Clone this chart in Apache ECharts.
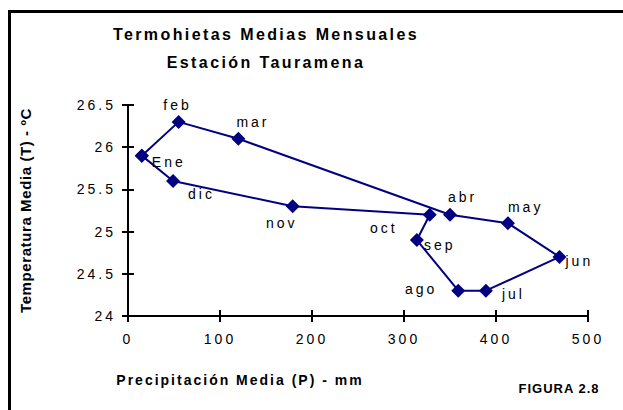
<!DOCTYPE html>
<html><head><meta charset="utf-8">
<script src="https://cdn.jsdelivr.net/npm/echarts@6/dist/echarts.min.js"></script>
<style>html,body{margin:0;padding:0;background:#fff}#c{width:623px;height:410px}</style>
</head><body><div id="c"></div>
<script>
const months = ['Ene','feb','mar','abr','may','jun','jul','ago','sep','oct','nov','dic'];
const precip = [15, 55, 120, 350, 413, 469, 389, 359, 314, 328, 179, 49];
const temp = [25.9, 26.3, 26.1, 25.2, 25.1, 24.7, 24.3, 24.3, 24.9, 25.2, 25.3, 25.6];
const xTicks = [0, 100, 200, 300, 400, 500];
const yTicks = [24, 24.5, 25, 25.5, 26, 26.5];
// label placement (style only): [align, dx, dy]
const labelPlace = [
  ['left', 10, 6], ['center', -1, -17], ['left', -2, -17], ['left', -2, -18],
  ['left', 0, -16], ['left', 6, 4], ['left', 16, 3], ['right', -21, -2],
  ['left', 7, 5], ['right', -32, 13], ['center', -11, 17], ['left', 15, 13]
];
const FONT = "'Liberation Sans', Arial, sans-serif";

const data = months.map((m, i) => ({
  name: m,
  value: [precip[i], temp[i]],
  label: { show: true, formatter: m, position: 'inside', align: labelPlace[i][0],
           verticalAlign: 'middle', offset: [labelPlace[i][1], labelPlace[i][2]] }
}));
data.push({ name: months[0], value: [precip[0], temp[0]], label: { show: false } });

const chart = echarts.init(document.getElementById('c'), null, { renderer: 'svg' });
const xMin = xTicks[0], xMax = xTicks[xTicks.length - 1], xInt = xTicks[1] - xTicks[0];
const yMin = yTicks[0], yMax = yTicks[yTicks.length - 1], yInt = yTicks[1] - yTicks[0];
const lineBlack = { show: true, lineStyle: { color: '#000', width: 2 } };

chart.setOption({
  animation: false,
  backgroundColor: '#fff',
  grid: { left: 128, right: 35, top: 105, bottom: 94, containLabel: false },
  xAxis: [{
    type: 'value', min: xMin, max: xMax, interval: xInt, position: 'bottom',
    axisLine: lineBlack,
    axisTick: { show: true, inside: false, length: 6, lineStyle: { color: '#000', width: 2 } },
    axisLabel: { color: '#000', fontFamily: FONT, fontSize: 14, margin: 16 },
    splitLine: { show: false },
    name: 'Precipitación Media (P) - mm', nameLocation: 'middle', nameGap: 57,
    nameTextStyle: { color: '#000', fontFamily: FONT, fontSize: 14, fontWeight: 'bold', padding: [0, 236, 0, 0] }
  }, {
    type: 'value', min: xMin, max: xMax, interval: xInt, position: 'bottom',
    axisLine: { show: false },
    axisTick: { show: true, inside: true, length: 6, lineStyle: { color: '#000', width: 2 } },
    axisLabel: { show: false }, splitLine: { show: false }
  }],
  yAxis: [{
    type: 'value', min: yMin, max: yMax, interval: yInt, position: 'left',
    axisLine: lineBlack,
    axisTick: { show: true, inside: false, length: 6, lineStyle: { color: '#000', width: 2 } },
    axisLabel: { color: '#000', fontFamily: FONT, fontSize: 14, margin: 12 },
    splitLine: { show: false },
    name: 'Temperatura Media (T) - ºC', nameLocation: 'middle', nameGap: 95, nameRotate: 90,
    nameTextStyle: { color: '#000', fontFamily: FONT, fontSize: 15, fontWeight: 'bold' }
  }, {
    type: 'value', min: yMin, max: yMax, interval: yInt, position: 'left',
    axisLine: { show: false },
    axisTick: { show: true, inside: true, length: 6, lineStyle: { color: '#000', width: 2 } },
    axisLabel: { show: false }, splitLine: { show: false }
  }],
  graphic: [
    { type: 'polyline', silent: true, shape: { points: [[9.5, 430], [9.5, 11.5], [640, 11.5]] },
      style: { stroke: '#000', lineWidth: 3, fill: null } },
    { type: 'text', x: 266, y: 34, style: { text: 'Termohietas Medias Mensuales', font: "bold 16px " + FONT,
      fill: '#000', textAlign: 'center', textVerticalAlign: 'middle' } },
    { type: 'text', x: 266, y: 62, style: { text: 'Estación Tauramena', font: "bold 16px " + FONT,
      fill: '#000', textAlign: 'center', textVerticalAlign: 'middle' } },
    { type: 'text', x: 559, y: 388, style: { text: 'FIGURA 2.8', font: "bold 13px " + FONT,
      fill: '#000', textAlign: 'center', textVerticalAlign: 'middle' } }
  ],
  series: [{
    type: 'line', xAxisIndex: 0, yAxisIndex: 0,
    data: data,
    symbol: 'diamond', symbolSize: 14,
    itemStyle: { color: '#000080' },
    lineStyle: { color: '#000080', width: 2 },
    label: { color: '#000', fontFamily: FONT, fontSize: 14, textBorderWidth: 0 },
    emphasis: { disabled: true }
  }]
});

function applySpacing() {
  document.querySelectorAll('#c svg text').forEach(t => {
    const s = t.textContent || '';
    let ls = 3;
    if (/Termohietas|Estación/.test(s)) ls = 2.4;
    else if (/Precipitación/.test(s)) ls = 2;
    else if (/FIGURA/.test(s)) ls = 1;
    else if (/Temperatura/.test(s)) ls = 0.6;
    t.style.letterSpacing = ls + 'px';
  });
}
chart.on('finished', applySpacing);
applySpacing();
</script></body></html>
